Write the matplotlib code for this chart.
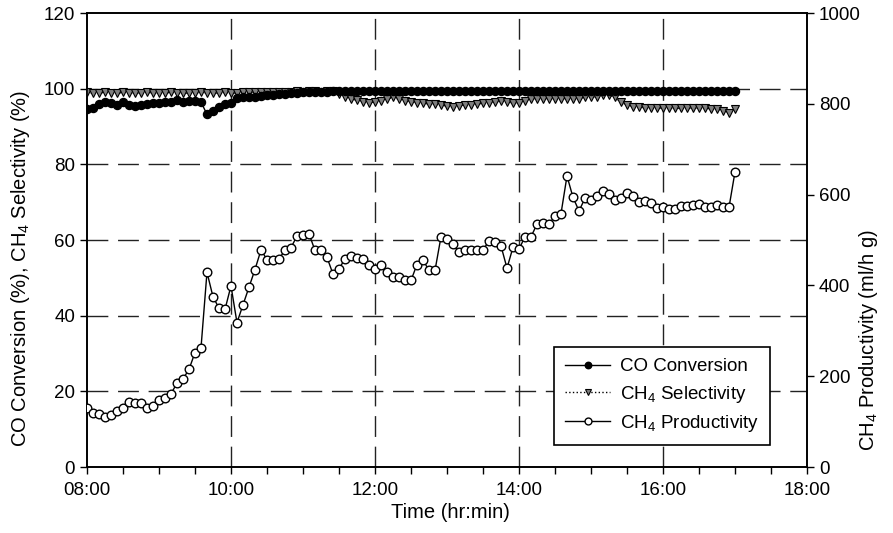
import matplotlib
matplotlib.use("Agg")
import matplotlib.pyplot as plt
import numpy as np

plt.rcParams['font.family'] = ['Liberation Sans', 'DejaVu Sans']
plt.rcParams['mathtext.fontset'] = 'custom'
plt.rcParams['mathtext.rm'] = 'Liberation Sans'

# samples every 5 min from 08:00 to 17:00
minutes = np.arange(0, 545, 5)
hours = 8 + minutes / 60.0

co_conversion = [
    94.5, 95.0, 96.0, 96.4, 96.3, 95.8, 96.5, 95.8, 95.3, 95.6,
    96.0, 96.1, 96.3, 96.5, 96.5, 96.9, 96.5, 96.8, 96.8, 96.5,
    93.2, 94.2, 95.2, 95.9, 96.1, 97.6, 97.7, 97.8, 97.9, 98.1,
    98.2, 98.4, 98.5, 98.7, 98.8, 98.9, 99.0, 99.0, 99.1, 99.2,
    99.2, 99.3, 99.4, 99.4, 99.4, 99.4, 99.4, 99.4, 99.5, 99.5,
    99.4, 99.5, 99.5, 99.5, 99.4, 99.5, 99.5, 99.5, 99.5, 99.4,
    99.5, 99.5, 99.5, 99.5, 99.4, 99.5, 99.5, 99.5, 99.4, 99.5,
    99.5, 99.5, 99.5, 99.4, 99.4, 99.5, 99.5, 99.5, 99.4, 99.4,
    99.4, 99.5, 99.5, 99.4, 99.4, 99.4, 99.5, 99.4, 99.4, 99.3,
    99.4, 99.4, 99.4, 99.3, 99.4, 99.4, 99.4, 99.3, 99.4, 99.4,
    99.3, 99.4, 99.3, 99.3, 99.4, 99.3, 99.3, 99.3, 99.3,
]

ch4_selectivity = [
    99.0, 98.8, 98.9, 99.0, 98.9, 98.8, 99.0, 98.9, 98.8, 98.9,
    99.0, 98.9, 98.8, 98.9, 99.0, 98.9, 98.9, 98.8, 98.9, 99.0,
    98.9, 98.8, 98.9, 99.0, 98.8, 98.9, 99.0, 99.0, 99.1, 99.0,
    99.1, 99.2, 99.1, 99.2, 99.2, 99.3, 99.2, 99.3, 99.3, 99.2,
    99.3, 99.3, 98.6, 97.9, 97.3, 96.9, 96.6, 96.3, 96.5, 96.8,
    97.2, 97.7, 97.2, 96.8, 96.6, 96.3, 96.1, 96.0, 95.9, 95.7,
    95.4, 95.1, 95.5, 95.8, 95.8, 96.0, 96.1, 96.3, 96.5, 96.7,
    96.5, 96.2, 96.3, 96.8, 97.3, 97.4, 97.4, 97.4, 97.4, 97.4,
    97.4, 97.4, 97.4, 97.7, 97.7, 97.9, 98.3, 98.3, 97.7, 96.4,
    95.7, 95.2, 95.1, 95.0, 95.0, 94.9, 94.9, 94.8, 94.8, 94.8,
    94.8, 94.9, 94.8, 94.8, 94.7, 94.6, 94.2, 93.7, 94.6,
]

ch4_productivity = [
    129, 120, 116, 110, 115, 124, 131, 143, 142, 142,
    130, 135, 147, 152, 161, 185, 194, 215, 252, 262,
    429, 375, 350, 347, 399, 318, 357, 396, 435, 478,
    457, 457, 459, 477, 483, 509, 511, 514, 477, 477,
    462, 425, 436, 459, 465, 461, 458, 446, 436, 444,
    429, 418, 418, 412, 411, 446, 456, 433, 433, 507,
    502, 491, 473, 478, 478, 478, 478, 498, 495, 487,
    438, 484, 480, 507, 507, 535, 537, 535, 553, 558,
    641, 594, 564, 592, 588, 598, 608, 601, 588, 592,
    603, 598, 584, 587, 582, 570, 572, 568, 568, 576,
    575, 577, 580, 573, 573, 578, 573, 572, 650,
]

tick_hours = [8, 10, 12, 14, 16, 18]
tick_labels = ["08:00", "10:00", "12:00", "14:00", "16:00", "18:00"]

fig = plt.figure(figsize=(8.93, 5.33), dpi=100)
ax = fig.add_axes([0.0974, 0.1238, 0.8063, 0.8518])
ax2 = ax.twinx()

dash = (0, (15, 7))
ax.plot(hours, co_conversion, '-', color='black', lw=1, marker='o',
        ms=5.8, mfc='black', mec='black', label='CO Conversion', zorder=4)
ax.plot(hours, ch4_selectivity, ':', color='black', lw=1, marker='v',
        ms=5.8, mfc='#7f7f7f', mec='black', mew=0.8,
        label='CH$_4$ Selectivity', zorder=3)
ax2.plot(hours, ch4_productivity, '-', color='black', lw=1, marker='o',
         ms=6.2, mfc='white', mec='black', mew=1,
         label='CH$_4$ Productivity', zorder=3)

ax.set_xlim(8, 18)
ax.set_ylim(0, 120)
ax2.set_ylim(0, 1000)
ax.set_xticks(tick_hours)
ax.set_xticklabels(tick_labels)
ax.set_xticks(np.arange(8, 18.01, 0.5), minor=True)
ax.set_yticks(np.arange(0, 121, 20))
ax2.set_yticks(np.arange(0, 1001, 200))

for a in (ax, ax2):
    a.tick_params(which='both', direction='out', length=5, width=1,
                  labelsize=13.5, colors='black')
    for s in a.spines.values():
        s.set_linewidth(1.2)
ax.tick_params(axis='x', pad=6)

# dashed grid
for x in [10, 12, 14, 16]:
    ax.axvline(x, color='#222222', lw=1, linestyle=dash, zorder=1)
for y in [20, 40, 60, 80, 100]:
    ax.axhline(y, color='#222222', lw=1, linestyle=dash, zorder=1)

fig.text(450 / 893, 1 - 512 / 533, 'Time (hr:min)', fontsize=14.5,
         ha='center', va='center')
fig.text(21 / 893, 1 - 268 / 533, 'CO Conversion (%), CH$_4$ Selectivity (%)',
         fontsize=14.5, rotation=90, ha='center', va='center')
fig.text(869 / 893, 1 - 340 / 533, 'CH$_4$ Productivity (ml/h g)',
         fontsize=14.5, rotation=90, ha='center', va='center')

h1, l1 = ax.get_legend_handles_labels()
h2, l2 = ax2.get_legend_handles_labels()
leg = ax2.legend(h1 + h2, l1 + l2, loc='lower right',
                 bbox_to_anchor=(0.949, 0.048), borderaxespad=0,
                 fontsize=13.5, fancybox=False, edgecolor='black',
                 framealpha=1, borderpad=0.6, labelspacing=0.45,
                 handlelength=2.4, handletextpad=0.5, markerscale=0.8)
leg.get_frame().set_linewidth(1.2)

fig.savefig('out.png', dpi=100)
